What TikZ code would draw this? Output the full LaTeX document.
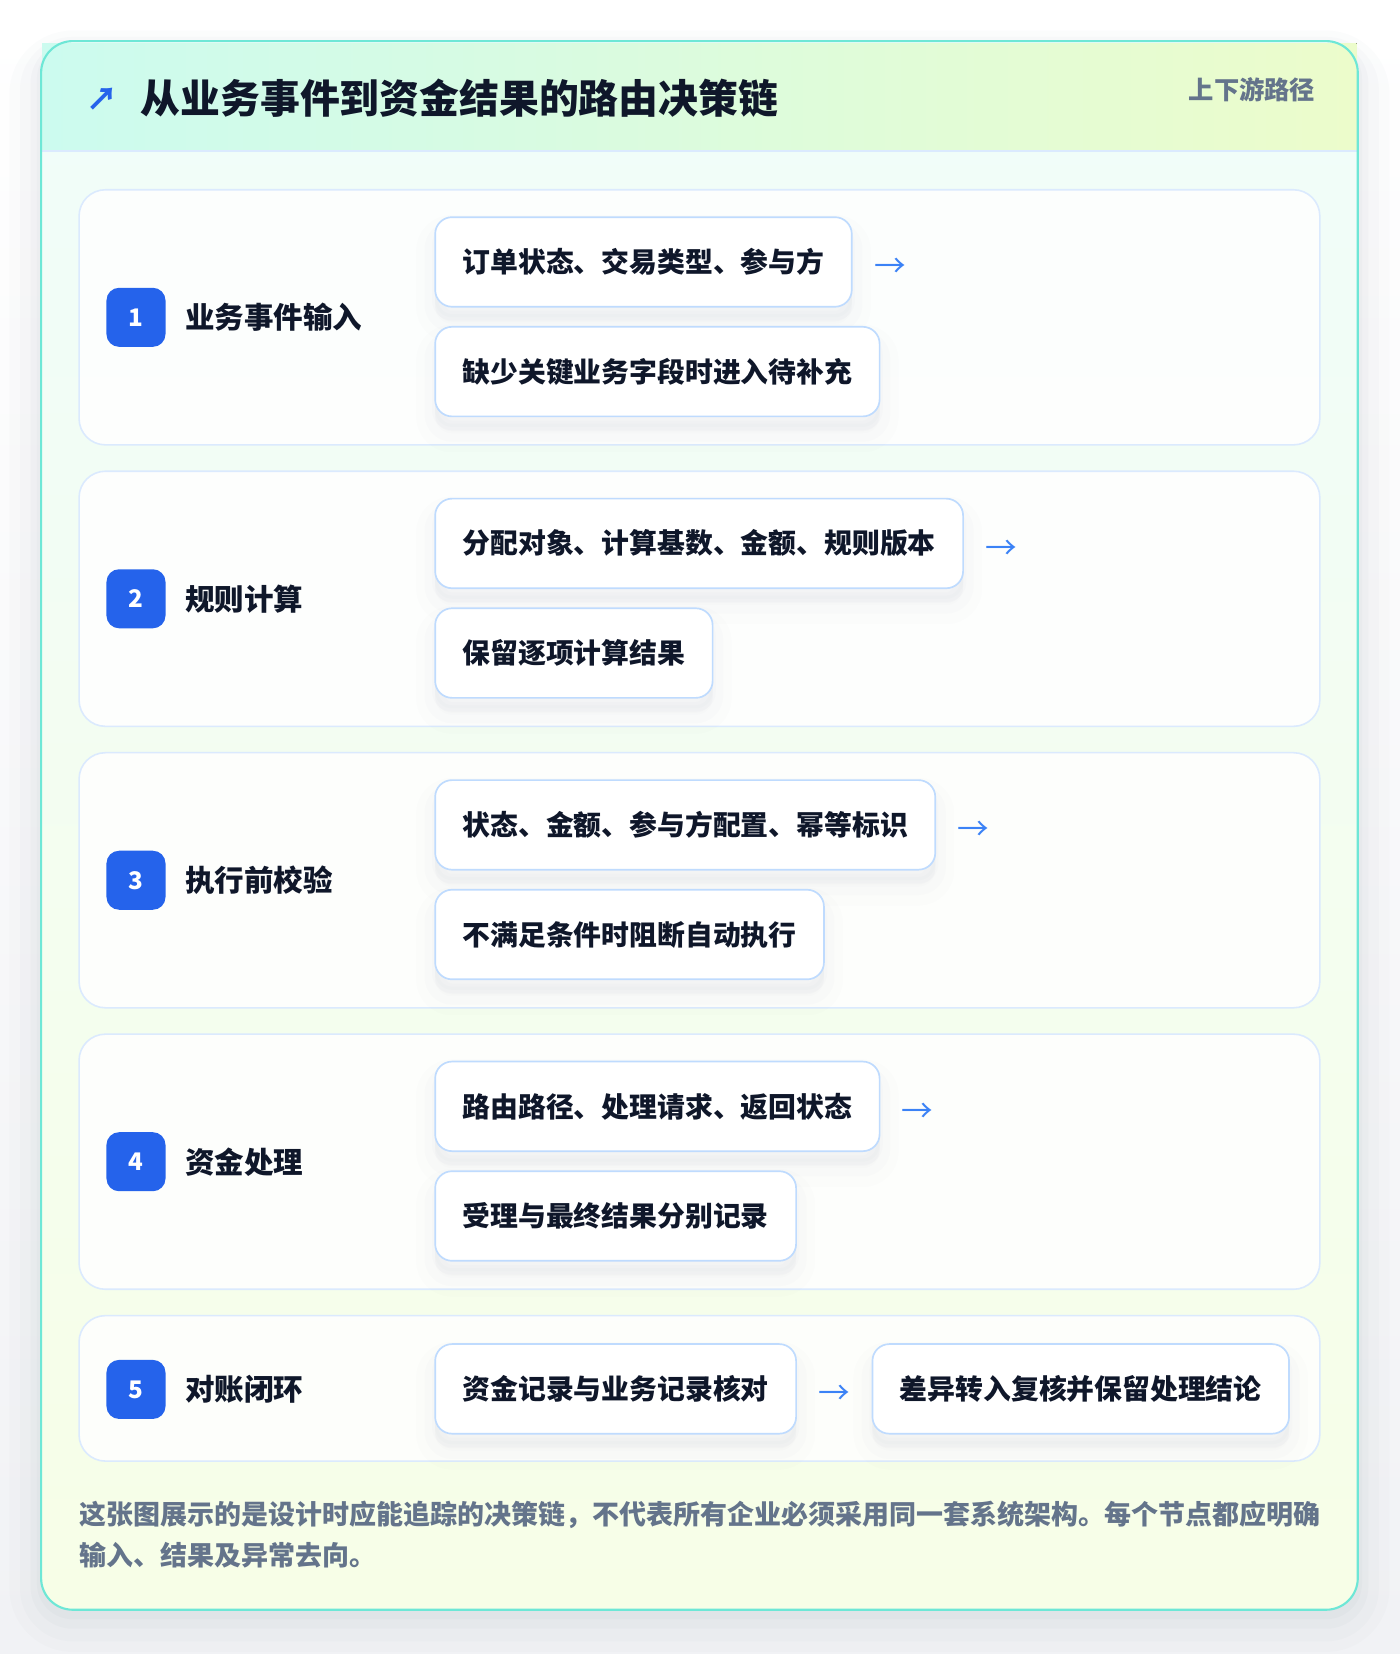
\documentclass[tikz,border=0pt]{standalone}
\usepackage{fontspec}
\setmainfont{Noto Sans CJK SC}
\usepackage{tikz}
\usetikzlibrary{positioning}

\definecolor{inkdark}{HTML}{0F172A}
\definecolor{badgeblue}{HTML}{2563EB}
\definecolor{arrowblue}{HTML}{3B82F6}
\definecolor{mutedgray}{HTML}{64748B}
\definecolor{cardline}{HTML}{DBEAFE}
\definecolor{boxline}{HTML}{BFDBFE}
\definecolor{outerline}{HTML}{6EE7D6}
\definecolor{headleft}{HTML}{CCFBEF}
\definecolor{headright}{HTML}{ECFCCB}
\definecolor{bodytop}{HTML}{F0FDFA}
\definecolor{bodybottom}{HTML}{F7FEE7}
\definecolor{pagegray}{HTML}{F1F2F5}
\definecolor{shadowgray}{HTML}{64748B}

\begin{document}
\begin{tikzpicture}[x=0.5pt, y=-0.5pt,
		card/.style={draw=cardline, line width=0.75pt, fill=white, fill opacity=0.85, rounded corners=12.5pt},
		badge/.style={fill=badgeblue, rounded corners=6pt, minimum size=28pt, inner sep=0pt, text=white, font=\fontsize{11.5}{12}\selectfont\bfseries},
		steplabel/.style={inner sep=0pt, text=inkdark, font=\fontsize{14}{16}\selectfont\bfseries},
		itembox/.style={draw=boxline, line width=0.8pt, fill=white, rounded corners=8pt, minimum height=42.5pt, inner xsep=13pt, text=inkdark, font=\fontsize{13.2}{16}\selectfont\bfseries,
			preaction={fill=shadowgray, fill opacity=0.012, draw=shadowgray, draw opacity=0.012, line width=18pt, transform canvas={yshift=-8pt}},
			preaction={fill=shadowgray, fill opacity=0.014, draw=shadowgray, draw opacity=0.014, line width=10pt, transform canvas={yshift=-7pt}},
			preaction={fill=shadowgray, fill opacity=0.016, draw=shadowgray, draw opacity=0.016, line width=3pt, transform canvas={yshift=-5pt}}},
		nextarrow/.style={inner sep=0pt, yshift=-3pt, text=arrowblue, font=\fontsize{15}{16}\selectfont}
	]
	
	% Page and outer card
	\useasboundingbox (0,0) rectangle (1328,1569);
	\fill[top color=white, bottom color=pagegray] (0,0) rectangle (1328,1569);
	\fill[shadowgray, opacity=0.02, rounded corners=30pt] (9,29) rectangle (1318,1567);
	\fill[shadowgray, opacity=0.025, rounded corners=25pt] (19,35) rectangle (1308,1557);
	\fill[shadowgray, opacity=0.03, rounded corners=20pt] (29,39) rectangle (1298,1545);
	\fill[shadowgray, opacity=0.03, rounded corners=17pt] (35,41) rectangle (1292,1536);
	\path[top color=bodytop, bottom color=bodybottom, rounded corners=15pt] (39,39) rectangle (1288,1527);
	\fill[left color=headleft, right color=headright] (40,41) rectangle (1287,143);
	\draw[cardline, line width=0.75pt] (40,143) -- (1287,143);
	\draw[outerline, line width=1pt, rounded corners=15pt] (39,39) rectangle (1288,1527);
	
	% Header
	\node[text=badgeblue, font=\fontsize{15}{16}\selectfont\bfseries, inner sep=0pt] (icon) at (97,94) {↗};
	\node[anchor=west, inner sep=0pt, text=inkdark, font=\fontsize{18.9}{22}\selectfont\bfseries] (title) at (133,93) {从业务事件到资金结果的路由决策链};
	\node[anchor=east, inner sep=0pt, text=mutedgray, font=\fontsize{12}{14}\selectfont\bfseries] (tag) at (1248,85) {上下游路径};
	
	% Step 1
	\draw[card] (75,180) rectangle (1252,422);
	\node[badge] (n1) at (129,301) {1};
	\node[steplabel, right=9pt of n1] (s1) {业务事件输入};
	\node[itembox, anchor=west] (a1) at (412,248.5) {订单状态、交易类型、参与方};
	\node[itembox, anchor=west] (b1) at (412,352.5) {缺少关键业务字段时进入待补充};
	\node[nextarrow, right=10pt of a1] (r1) {→};
	
	% Step 2
	\draw[card] (75,447) rectangle (1252,689);
	\node[badge] (n2) at (129,568) {2};
	\node[steplabel, right=9pt of n2] (s2) {规则计算};
	\node[itembox, anchor=west] (a2) at (412,515.5) {分配对象、计算基数、金额、规则版本};
	\node[itembox, anchor=west] (b2) at (412,619.5) {保留逐项计算结果};
	\node[nextarrow, right=10pt of a2] (r2) {→};
	
	% Step 3
	\draw[card] (75,714) rectangle (1252,956);
	\node[badge] (n3) at (129,835) {3};
	\node[steplabel, right=9pt of n3] (s3) {执行前校验};
	\node[itembox, anchor=west] (a3) at (412,782.5) {状态、金额、参与方配置、幂等标识};
	\node[itembox, anchor=west] (b3) at (412,886.5) {不满足条件时阻断自动执行};
	\node[nextarrow, right=10pt of a3] (r3) {→};
	
	% Step 4
	\draw[card] (75,981) rectangle (1252,1223);
	\node[badge] (n4) at (129,1102) {4};
	\node[steplabel, right=9pt of n4] (s4) {资金处理};
	\node[itembox, anchor=west] (a4) at (412,1049.5) {路由路径、处理请求、返回状态};
	\node[itembox, anchor=west] (b4) at (412,1153.5) {受理与最终结果分别记录};
	\node[nextarrow, right=10pt of a4] (r4) {→};
	
	% Step 5
	\draw[card] (75,1248) rectangle (1252,1386);
	\node[badge] (n5) at (129,1318) {5};
	\node[steplabel, right=9pt of n5] (s5) {对账闭环};
	\node[itembox, anchor=west] (a5) at (412,1317.5) {资金记录与业务记录核对};
	\node[nextarrow, right=10pt of a5] (r5) {→};
	\node[itembox, right=10pt of r5, yshift=3pt] (b5) {差异转入复核并保留处理结论};
	
	% Note
	\node[anchor=west, align=left, inner sep=0pt, text=mutedgray, font=\fontsize{12.8}{19.5}\selectfont\bfseries] (note) at (75,1456)
		{这张图展示的是设计时应能追踪的决策链，不代表所有企业必须采用同一套系统架构。每个节点都应明确\\输入、结果及异常去向。};
	
\end{tikzpicture}
\end{document}
